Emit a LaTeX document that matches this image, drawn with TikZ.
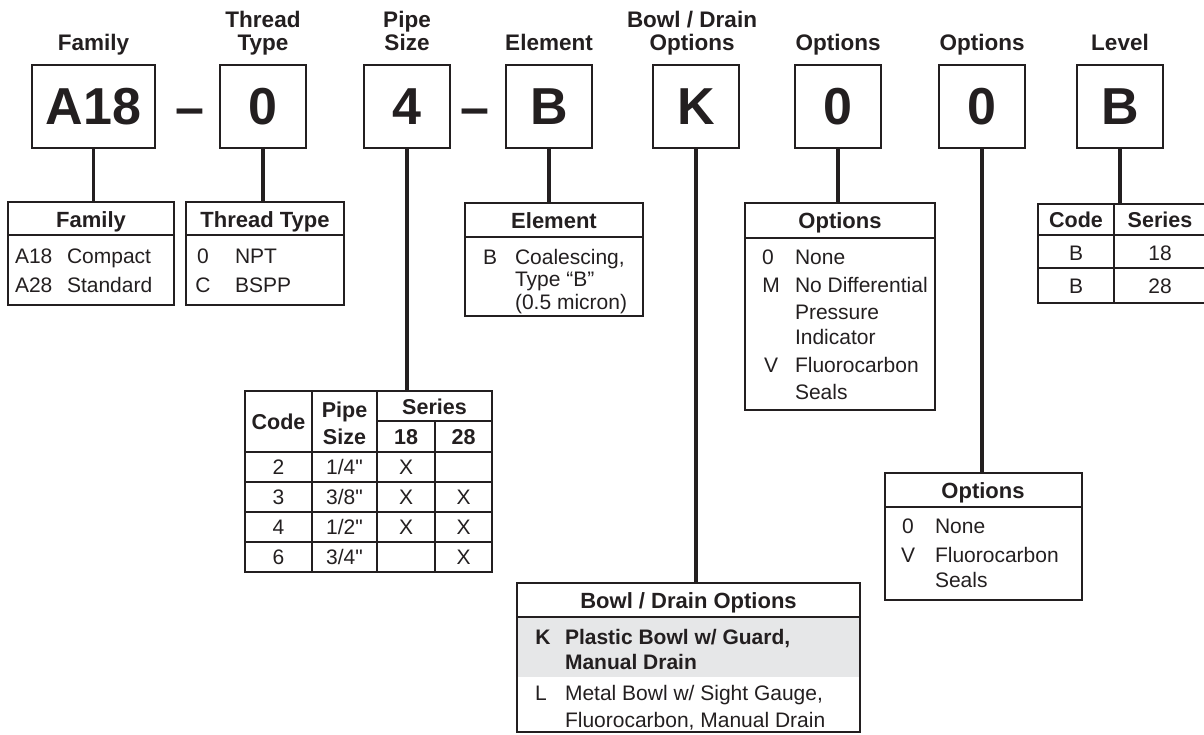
\documentclass[tikz,border=0pt]{standalone}
\usepackage{fontspec}
\setmainfont{Liberation Sans}
\newfontfamily\rawfont{Liberation Sans}
\definecolor{ink}{HTML}{231F20}
\definecolor{rowgray}{HTML}{E6E7E8}
\begin{document}
\begin{tikzpicture}[x=1pt,y=-1pt,
  every node/.style={text=ink, inner sep=0pt, outer sep=0pt},
  codebox/.style={draw=ink, line width=2.2pt, minimum width=86pt, minimum height=83pt, font=\fontsize{52}{52}\selectfont\bfseries},
  toplbl/.style={anchor=base, font=\fontsize{22.5}{23}\selectfont\bfseries},
  conn/.style={draw=ink, line width=3.6pt},
  frame/.style={draw=ink, line width=2.2pt, anchor=north west, inner sep=0pt},
  hdr/.style={anchor=base, font=\fontsize{22}{22}\selectfont\bfseries},
  hdrs/.style={anchor=base, font=\fontsize{21.5}{22}\selectfont\bfseries},
  cell/.style={anchor=base, font=\fontsize{21}{21}\selectfont},
  cellraw/.style={anchor=base, font=\fontsize{21}{21}\rawfont},
  cellw/.style={anchor=base west, font=\fontsize{21}{21}\selectfont},
  cellb/.style={anchor=base, font=\fontsize{21}{21}\selectfont\bfseries},
  cellwb/.style={anchor=base west, font=\fontsize{21}{21}\selectfont\bfseries},
  gridline/.style={draw=ink, line width=1.1pt},
  hline/.style={draw=ink, line width=2pt},
  dashtxt/.style={anchor=base, font=\fontsize{52}{52}\selectfont\bfseries},
]
\useasboundingbox (0,0) rectangle (1204,734);

% ---------- top labels ----------
\node[toplbl] (lFam) at (93.5,50) {Family};
\node[toplbl] (lThr1) at (263,27) {Thread};
\node[toplbl] (lThr2) at (263,50) {Type};
\node[toplbl] (lPip1) at (407,27) {Pipe};
\node[toplbl] (lPip2) at (407,50) {Size};
\node[toplbl] (lEle) at (549,50) {Element};
\node[toplbl] (lBow1) at (692,27) {Bowl / Drain};
\node[toplbl] (lBow2) at (692,50) {Options};
\node[toplbl] (lOp1) at (838,50) {Options};
\node[toplbl] (lOp2) at (982,50) {Options};
\node[toplbl] (lLev) at (1120,50) {Level};

% ---------- code boxes ----------
\node[codebox, minimum width=123pt] (bA) at (93.5,106.5) {A18};
\node[dashtxt] (d1) at (190,125) {\textendash};
\node[codebox] (bT) at (263,106.5) {0};
\node[codebox] (bP) at (407,106.5) {4};
\node[dashtxt] (d2) at (475,125) {\textendash};
\node[codebox] (bE) at (549,106.5) {B};
\node[codebox] (bK) at (696,106.5) {K};
\node[codebox] (bO1) at (838,106.5) {0};
\node[codebox] (bO2) at (982,106.5) {0};
\node[codebox] (bL) at (1120,106.5) {B};

% ---------- Family table ----------
\node[frame, minimum width=166pt, minimum height=103pt] (famT) at (8,202) {};
\node[hdr] (famH) at (91,227) {Family};
\draw[hline] (8,235) -- (174,235);
\node[cellw] (fam1a) at (15,263.5) {A18};
\node[cellw] (fam1b) at (67,263.5) {Compact};
\node[cellw] (fam2a) at (15,292.5) {A28};
\node[cellw] (fam2b) at (67,292.5) {Standard};

% ---------- Thread table ----------
\node[frame, minimum width=158pt, minimum height=103pt] (thrT) at (186,202) {};
\node[hdr] (thrH) at (265,227) {Thread Type};
\draw[hline] (186,235) -- (344,235);
\node[cell] (thr1a) at (203,263.5) {0};
\node[cellw] (thr1b) at (235,263.5) {NPT};
\node[cell] (thr2a) at (203,292.5) {C};
\node[cellw] (thr2b) at (235,292.5) {BSPP};

% ---------- Element table ----------
\node[frame, minimum width=178pt, minimum height=113pt] (eleT) at (465,203) {};
\node[hdr] (eleH) at (554,228) {Element};
\draw[hline] (465,237) -- (643,237);
\node[cell] (ele1a) at (490,264) {B};
\node[cellw] (ele1b) at (515,264) {Coalescing,};
\node[cellw] (ele2) at (515,286.5) {Type “B”};
\node[cellw] (ele3) at (515,309) {(0.5 micron)};

% ---------- Options table 1 ----------
\node[frame, minimum width=190pt, minimum height=207pt] (o1T) at (745,203) {};
\node[hdr] (o1H) at (840,228) {Options};
\draw[hline] (745,238) -- (935,238);
\node[cell] (o1a) at (768,264.5) {0};
\node[cellw] (o1b) at (795,264.5) {None};
\node[cell] (o1c) at (771,292.5) {M};
\node[cellw] (o1d) at (795,292.5) {No Differential};
\node[cellw] (o1e) at (795,319.5) {Pressure};
\node[cellw] (o1f) at (795,344.5) {Indicator};
\node[cell] (o1g) at (771,372.5) {V};
\node[cellw] (o1h) at (795,372.5) {Fluorocarbon};
\node[cellw] (o1i) at (795,399.5) {Seals};

% ---------- Options table 2 ----------
\node[frame, minimum width=197pt, minimum height=127pt] (o2T) at (885,473) {};
\node[hdr] (o2H) at (983,498) {Options};
\draw[hline] (885,507) -- (1082,507);
\node[cell] (o2a) at (908,533.5) {0};
\node[cellw] (o2b) at (935,533.5) {None};
\node[cell] (o2c) at (908,562.5) {V};
\node[cellw] (o2d) at (935,562.5) {Fluorocarbon};
\node[cellw] (o2e) at (935,587.5) {Seals};

% ---------- Level table ----------
\node[frame, minimum width=168pt, minimum height=99pt] (levT) at (1038,204) {};
\draw[gridline] (1114,204) -- (1114,303);
\draw[hline] (1038,235) -- (1206,235);
\draw[gridline] (1038,268) -- (1206,268);
\node[hdrs] (levH1) at (1076,227.5) {Code};
\node[hdrs] (levH2) at (1160,227.5) {Series};
\node[cell] (lev1a) at (1076,260.5) {B};
\node[cell] (lev1b) at (1160,260.5) {18};
\node[cell] (lev2a) at (1076,293.5) {B};
\node[cell] (lev2b) at (1160,293.5) {28};

% ---------- Pipe size table ----------
\node[frame, minimum width=247pt, minimum height=181pt] (pipT) at (245,391) {};
\draw[gridline] (312,391) -- (312,572);
\draw[gridline] (377,391) -- (377,572);
\draw[gridline] (435,421) -- (435,572);
\draw[gridline] (377,421) -- (492,421);
\draw[hline] (245,452) -- (492,452);
\draw[gridline] (245,482) -- (492,482);
\draw[gridline] (245,512) -- (492,512);
\draw[gridline] (245,542) -- (492,542);
\node[hdrs] (pipH1) at (278.5,429) {Code};
\node[hdrs] (pipH2) at (344.5,417) {Pipe};
\node[hdrs] (pipH3) at (344.5,444) {Size};
\node[hdrs] (pipH4) at (434.5,414) {Series};
\node[hdrs] (pipH5) at (406,444) {18};
\node[hdrs] (pipH6) at (463.5,444) {28};
\node[cell] (p1a) at (278.5,474.5) {2};
\node[cellraw] (p1b) at (344.5,474.5) {1/4"};
\node[cell] (p1c) at (406,474.5) {X};
\node[cell] (p2a) at (278.5,504.5) {3};
\node[cellraw] (p2b) at (344.5,504.5) {3/8"};
\node[cell] (p2c) at (406,504.5) {X};
\node[cell] (p2d) at (463.5,504.5) {X};
\node[cell] (p3a) at (278.5,534.5) {4};
\node[cellraw] (p3b) at (344.5,534.5) {1/2"};
\node[cell] (p3c) at (406,534.5) {X};
\node[cell] (p3d) at (463.5,534.5) {X};
\node[cell] (p4a) at (278.5,564.5) {6};
\node[cellraw] (p4b) at (344.5,564.5) {3/4"};
\node[cell] (p4d) at (463.5,564.5) {X};

% ---------- Bowl / Drain table ----------
\fill[rowgray] (517,617) rectangle (860,677);
\node[frame, minimum width=343pt, minimum height=149pt] (bowT) at (517,583) {};
\node[hdr] (bowH) at (688.5,608) {Bowl / Drain Options};
\draw[hline] (517,617) -- (860,617);
\node[cellb] (bw1a) at (543,644.5) {K};
\node[cellwb] (bw1b) at (565,644.5) {Plastic Bowl w/ Guard,};
\node[cellwb] (bw1c) at (565,669.5) {Manual Drain};
\node[cell] (bw2a) at (541,700.5) {L};
\node[cellw] (bw2b) at (565,700.5) {Metal Bowl w/ Sight Gauge,};
\node[cellw] (bw2c) at (565,727.5) {Fluorocarbon, Manual Drain};

% ---------- connectors ----------
\draw[conn] (bA.south) -- (bA.south |- famT.north);
\draw[conn] (bT.south) -- (bT.south |- thrT.north);
\draw[conn] (bP.south) -- (bP.south |- pipT.north);
\draw[conn] (bE.south) -- (bE.south |- eleT.north);
\draw[conn] (bK.south) -- (bK.south |- bowT.north);
\draw[conn] (bO1.south) -- (bO1.south |- o1T.north);
\draw[conn] (bO2.south) -- (bO2.south |- o2T.north);
\draw[conn] (bL.south) -- (bL.south |- levT.north);
\end{tikzpicture}
\end{document}
